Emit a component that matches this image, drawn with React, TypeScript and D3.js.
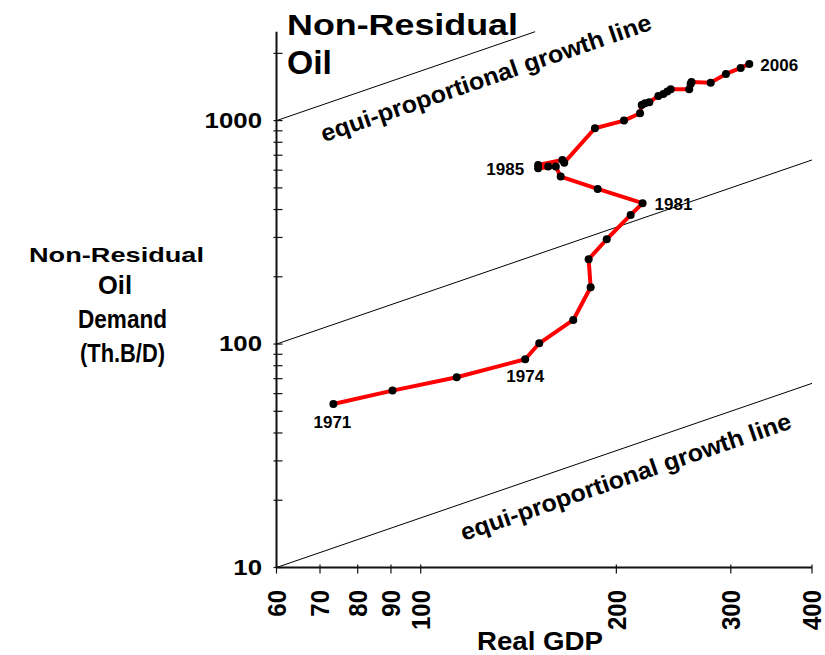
import React from "react";
import * as d3 from "d3";

// Annual observations, 1971-2006
const years = [
  1971, 1972, 1973, 1974, 1975, 1976, 1977, 1978, 1979, 1980, 1981, 1982,
  1983, 1984, 1985, 1986, 1987, 1988, 1989, 1990, 1991, 1992, 1993, 1994,
  1995, 1996, 1997, 1998, 1999, 2000, 2001, 2002, 2003, 2004, 2005, 2006,
];
const realGdp = [
  73.4, 90.5, 113.6, 144.8, 152.2, 171.7, 182.6, 181.3, 193.3, 210.4, 219.5,
  187.2, 164.2, 161.4, 151.6, 157.1, 151.6, 165.2, 166.3, 185.4, 205.5, 217.5,
  218.8, 221.4, 224.8, 232.1, 236.2, 239.6, 242.5, 258.9, 260.2, 261.0, 279.4,
  294.9, 310.7, 320.3,
];
const oilDemand = [
  53.9, 61.9, 71.0, 85.5, 100.8, 128.2, 179.6, 239.7, 294.5, 378.4, 426.9,
  494.6, 561.5, 622.5, 612.3, 622.5, 633.5, 667, 648.6, 924.7, 1000, 1079,
  1176, 1196, 1209, 1290, 1317, 1349, 1382, 1382, 1460, 1490, 1479, 1618,
  1721, 1794,
];
const labelledYears = [1971, 1974, 1981, 1985, 2006];

// Axis ticks
const xTickValues = [60, 70, 80, 90, 100, 200, 300, 400];
const yLabelValues = [10, 100, 1000];
const yMinorValues = [
  20, 30, 40, 50, 60, 70, 80, 90, 200, 300, 400, 500, 600, 700, 800, 900, 2000,
];

// Reference lines of equal proportional growth: demand ∝ GDP
const equiLines = [
  { from: [60, 1000], to: [150, 2500] },
  { from: [60, 100], to: [400, 666.7] },
  { from: [60, 10], to: [400, 66.7] },
];
const equiLabel = "equi-proportional growth line";
const titleLines = ["Non-Residual", "Oil"];
const yTitleLines = ["Non-Residual", "Oil", "Demand", "(Th.B/D)"];
const xTitle = "Real GDP";

const W = 825;
const H = 655;
const FONT = "'Liberation Sans', Arial, Helvetica, sans-serif";

const x = d3.scaleLog().domain([60, 400]).range([276.5, 812]);
const y = d3.scaleLog().domain([10, 2500]).range([567.5, 31.7]);

// Year label placement relative to its point
const yearLabelPlacement: Record<number, { dx: number; dy: number; anchor: string }> = {
  1971: { dx: -1, dy: 24, anchor: "middle" },
  1974: { dx: 0, dy: 23, anchor: "middle" },
  1981: { dx: 12, dy: 7, anchor: "start" },
  1985: { dx: -14, dy: 7, anchor: "end" },
  2006: { dx: 11, dy: 7, anchor: "start" },
};

// Layout of the wide, unevenly sized title lettering
const titleLayout = [
  { x: 287, y: 35, len: 231, size: 30 },
  { x: 287, y: 73.5, len: 45, size: 34 },
];
const yTitleLayout = [
  { x: 29, y: 262, len: 175, size: 21 },
  { x: 98, y: 293.5, len: 34, size: 25 },
  { x: 78, y: 328, len: 89, size: 25 },
  { x: 80, y: 361.5, len: 85, size: 25 },
];

export default function App() {
  const pts = years.map((yr, i) => ({ yr, g: realGdp[i], d: oilDemand[i] }));
  const line = d3
    .line<{ g: number; d: number }>()
    .x((p) => x(p.g))
    .y((p) => y(p.d));

  const slopeDeg =
    (Math.atan2(y(10) - y(100), x(600) - x(60)) * 180) / Math.PI;

  const equiLabelAt = (gdpStart: number, base: number) => {
    const px = x(gdpStart);
    const py = y(base * (gdpStart / 60)) + 38;
    return { px, py };
  };
  const upper = equiLabelAt(71, 1000);
  const lower = equiLabelAt(116.5, 10);

  const [x0, x1] = x.range();
  const [y0, y1] = y.range();

  return (
    <svg
      width={W}
      height={H}
      style={{ position: "absolute", left: 0, top: 0, background: "#fff" }}
      fontFamily={FONT}
      fontWeight="bold"
    >
      <rect width={W} height={H} fill="#fff" />

      {/* reference lines */}
      {equiLines.map((l, i) => (
        <line
          key={i}
          x1={x(l.from[0])}
          y1={y(l.from[1])}
          x2={x(l.to[0])}
          y2={y(l.to[1])}
          stroke="#000"
          strokeWidth={1}
        />
      ))}
      {[upper, lower].map((p, i) => (
        <text
          key={i}
          transform={`translate(${p.px},${p.py}) rotate(${-slopeDeg})`}
          fontSize={24}
          textLength={348}
          lengthAdjust="spacingAndGlyphs"
        >
          {equiLabel}
        </text>
      ))}

      {/* axes */}
      <line x1={x0} y1={y0} x2={x1} y2={y0} stroke="#111" strokeWidth={2} />
      <line x1={x0} y1={y0} x2={x0} y2={y1} stroke="#111" strokeWidth={2} />

      {xTickValues.map((v) => (
        <g key={v}>
          <line x1={x(v)} x2={x(v)} y1={y0 - 3} y2={y0 + 6} stroke="#111" strokeWidth={1.2} />
          <text
            transform={`translate(${x(v)},${590}) scale(1.1,1) rotate(-90)`}
            textAnchor="end"
            dominantBaseline="central"
            fontSize={24}
          >
            {v}
          </text>
        </g>
      ))}

      {[...yLabelValues, ...yMinorValues].map((v) => (
        <line key={v} x1={x0 - 3} x2={x0 + 6} y1={y(v)} y2={y(v)} stroke="#111" strokeWidth={1.2} />
      ))}
      {yLabelValues.map((v) => (
        <text
          key={v}
          transform={`translate(262,${y(v)}) scale(1.2,1)`}
          textAnchor="end"
          dominantBaseline="central"
          fontSize={21.5}
        >
          {v}
        </text>
      ))}

      {/* axis titles */}
      <text
        x={477}
        y={650}
        fontSize={25}
        textLength={126}
        lengthAdjust="spacingAndGlyphs"
      >
        {xTitle}
      </text>
      {yTitleLines.map((t, i) => (
        <text
          key={t}
          x={yTitleLayout[i].x}
          y={yTitleLayout[i].y}
          fontSize={yTitleLayout[i].size}
          textLength={yTitleLayout[i].len}
          lengthAdjust="spacingAndGlyphs"
        >
          {t}
        </text>
      ))}

      {/* chart title */}
      {titleLines.map((t, i) => (
        <text
          key={t}
          x={titleLayout[i].x}
          y={titleLayout[i].y}
          fontSize={titleLayout[i].size}
          textLength={titleLayout[i].len}
          lengthAdjust="spacingAndGlyphs"
        >
          {t}
        </text>
      ))}

      {/* demand path */}
      <path d={line(pts) ?? ""} fill="none" stroke="#ff0000" strokeWidth={4} strokeLinejoin="round" />
      {pts.map((p) => (
        <circle key={p.yr} cx={x(p.g)} cy={y(p.d)} r={4} fill="#000" />
      ))}

      {labelledYears.map((yr) => {
        const p = pts.find((q) => q.yr === yr)!;
        const pl = yearLabelPlacement[yr];
        return (
          <text
            key={yr}
            x={x(p.g) + pl.dx}
            y={y(p.d) + pl.dy}
            textAnchor={pl.anchor}
            fontSize={17}
          >
            {yr}
          </text>
        );
      })}
    </svg>
  );
}
